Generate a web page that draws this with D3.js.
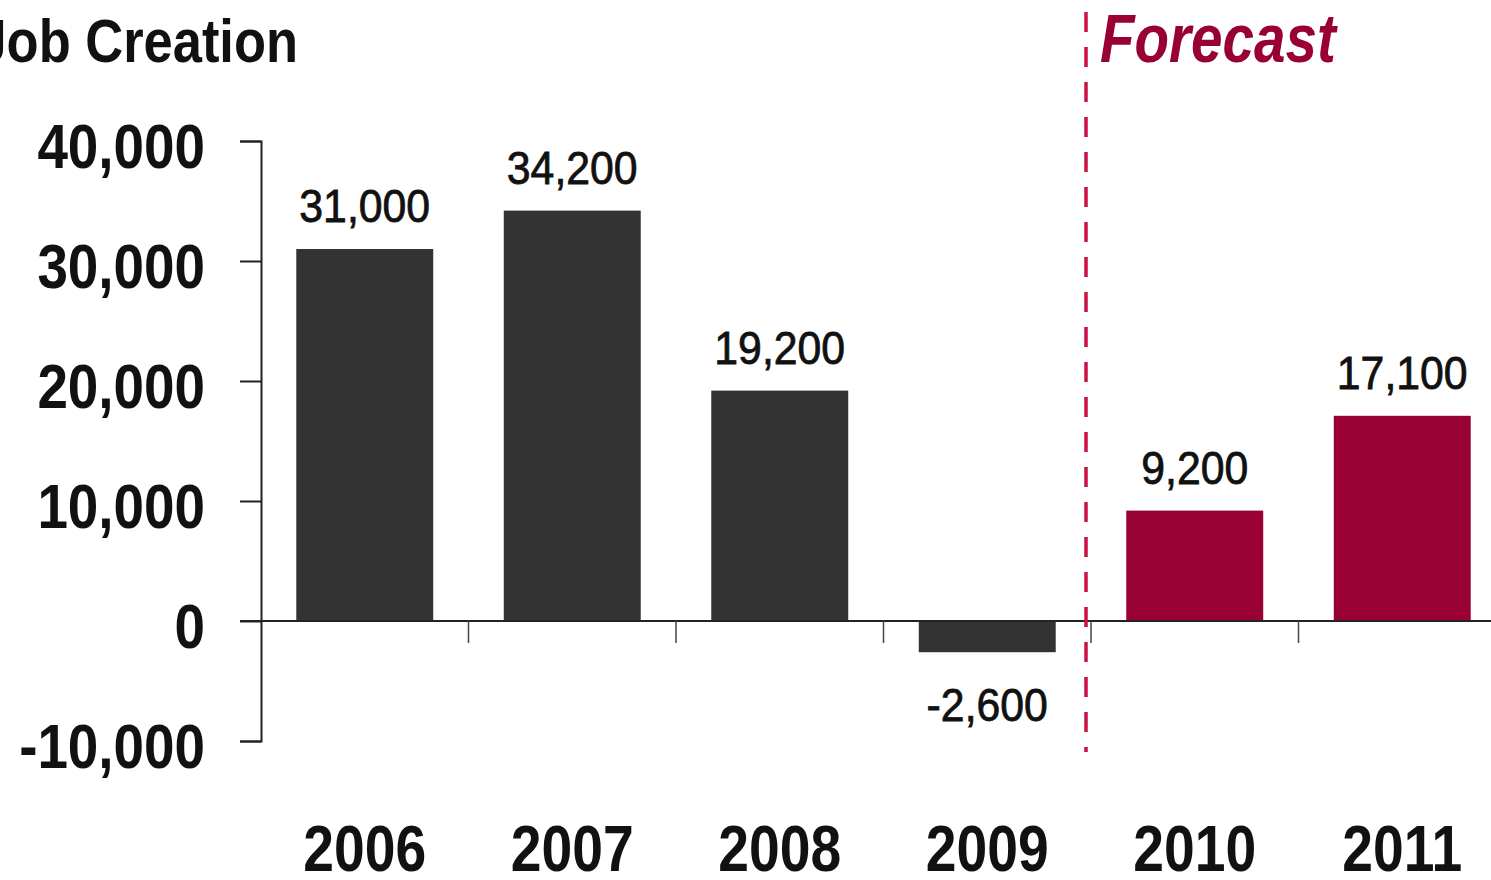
<!DOCTYPE html>
<html>
<head>
<meta charset="utf-8">
<script src="https://cdn.jsdelivr.net/npm/d3@7"></script>
<style>
  html, body { margin: 0; padding: 0; background: #fff; overflow: hidden; }
  svg { display: block; }
  text { font-family: "Liberation Sans", Arial, sans-serif; }
</style>
</head>
<body>
<svg id="chart" width="1491" height="880"></svg>
<script>
const years = ["2006", "2007", "2008", "2009", "2010", "2011"];
const values = [31000, 34200, 19200, -2600, 9200, 17100];
const forecast = [false, false, false, false, true, true];
const yTicks = [-10000, 0, 10000, 20000, 30000, 40000];
const titleText = "Job Creation";
const forecastText = "Forecast";

const svg = d3.select("#chart");
const fmt = v => d3.format(",")(v).replace("\u2212", "-");

// horizontally condense text (narrow face substitute)
function condense(sel, sx) {
  sel.each(function () {
    const t = d3.select(this);
    const xv = parseFloat(t.attr("x")) || 0;
    t.attr("x", xv / sx).attr("transform", `scale(${sx},1)`);
  });
}

const x = d3.scaleBand().domain(years).range([261, 1506]).paddingInner(0.34).paddingOuter(0.17);
const y = d3.scaleLinear().domain([-10000, 40000]).range([741, 141]);

// bars
svg.append("g").selectAll("rect").data(years).join("rect")
  .attr("x", d => x(d))
  .attr("width", x.bandwidth())
  .attr("y", (d, i) => y(Math.max(0, values[i])))
  .attr("height", (d, i) => Math.abs(y(values[i]) - y(0)))
  .attr("fill", (d, i) => forecast[i] ? "#990033" : "#333333");

// y axis
const yAxis = d3.axisLeft(y).tickValues(yTicks).tickFormat(fmt).tickSize(21).tickPadding(35);
const gy = svg.append("g").attr("transform", "translate(261,0)").call(yAxis);
gy.select(".domain").attr("stroke", "#222").attr("stroke-width", 2);
gy.selectAll(".tick line").attr("stroke", "#222").attr("stroke-width", 2);
gy.selectAll(".tick text")
  .attr("fill", "#111").attr("font-size", 63).attr("font-weight", "bold")
  .attr("dy", "0.42em")
  .style("font-family", "'Liberation Sans', Arial, sans-serif");
condense(gy.selectAll(".tick text"), 0.87);

// x baseline
svg.append("line").attr("x1", 240).attr("x2", 1491).attr("y1", y(0)).attr("y2", y(0))
  .attr("stroke", "#222").attr("stroke-width", 2);

// category ticks at band boundaries
const step = x.step();
const bounds = years.slice(1).map(d => x(d) - x.paddingInner() * step / 2);
svg.append("g").selectAll("line").data(bounds).join("line")
  .attr("x1", d => d).attr("x2", d => d)
  .attr("y1", y(0)).attr("y2", y(0) + 22)
  .attr("stroke", "#444").attr("stroke-width", 1.5);

// year labels
const yl = svg.append("g").selectAll("text").data(years).join("text")
  .attr("x", d => x(d) + x.bandwidth() / 2)
  .attr("y", 871)
  .attr("text-anchor", "middle")
  .attr("font-size", 65).attr("font-weight", "bold").attr("fill", "#111")
  .text(d => d);
condense(yl, 0.85);

// value labels
const vl = svg.append("g").selectAll("text").data(years).join("text")
  .attr("x", d => x(d) + x.bandwidth() / 2)
  .attr("y", (d, i) => values[i] >= 0 ? y(values[i]) - 27 : y(values[i]) + 69)
  .attr("text-anchor", "middle")
  .attr("font-size", 46).attr("fill", "#111")
  .attr("stroke", "#111").attr("stroke-width", 0.8)
  .text((d, i) => fmt(values[i]));
condense(vl, 0.93);

// forecast divider
const divX = x("2010") - x.paddingInner() * step / 2 - 5;
svg.append("line").attr("x1", divX).attr("x2", divX).attr("y1", 12).attr("y2", 752)
  .attr("stroke", "#cc1144").attr("stroke-width", 3.5).attr("stroke-dasharray", "20,15");

// title
const tt = svg.append("text").attr("x", 298).attr("y", 62).attr("text-anchor", "end")
  .attr("font-size", 61).attr("font-weight", "bold").attr("fill", "#111")
  .text(titleText);
condense(tt, 0.86);

const ft = svg.append("text").attr("x", 1100).attr("y", 62)
  .attr("font-size", 69).attr("font-weight", "bold").attr("font-style", "italic").attr("fill", "#990033")
  .text(forecastText);
condense(ft, 0.82);
</script>
</body>
</html>
